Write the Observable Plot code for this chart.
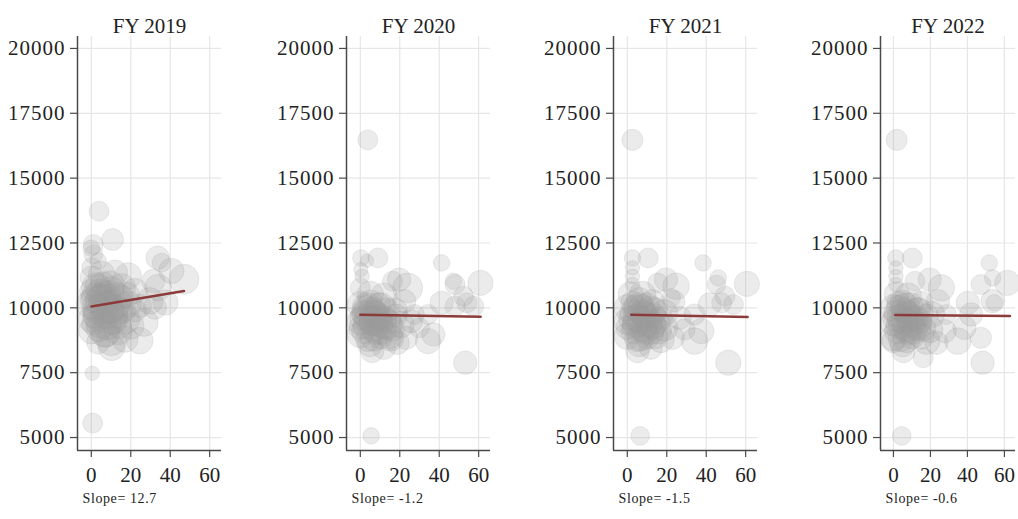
<!DOCTYPE html>
<html>
<head>
<meta charset="utf-8">
<script src="https://cdn.jsdelivr.net/npm/d3@7"></script>
<script src="https://cdn.jsdelivr.net/npm/@observablehq/plot@0.6"></script>
<style>
  html, body { margin: 0; padding: 0; background: #fff; }
  #chart { position: relative; width: 1018px; height: 519px; overflow: hidden; }
  #chart svg { position: absolute; top: 0; }
</style>
</head>
<body>
<div id="chart"></div>
<script>
// ---- data (x, y, weight) ----
const years = ["FY 2019", "FY 2020", "FY 2021", "FY 2022"];
const slopes = [12.7, -1.2, -1.5, -0.6];
const intercepts = [10050, 9730, 9738, 9720];
const fitMin = [0, 0, 2, 1];
const fitMax = [47, 61, 61, 63];
const xTicks = [0, 20, 40, 60];
const yTicks = [5000, 7500, 10000, 12500, 15000, 17500, 20000];

const fy2019 = [
  [3.9,13725,25],[10.8,12637,30],[1.0,12445,25],[1.0,12061,22],[0,12300,17],
  [33.6,11933,34],[35.6,11741,22],[40.6,11421,40],[47.0,11101,56],[33.9,10781,44],
  [37.6,10205,40],[26.8,9437,49],[24.6,8733,44],[18.7,11229,44],[0.5,7478,13],
  [0.7,5558,25],[0.2,11165,34],[5.2,11293,44],[12.0,11357,40],[0,10653,34],
  [2.7,10781,56],[9.4,10845,56],[15.3,10781,49],[22.1,10653,40],[0,10141,56],
  [5.2,10269,69],[12.0,10205,64],[18.7,10141,44],[24.6,10077,34],[0,9565,44],
  [3.5,9693,56],[10.3,9629,69],[17.0,9565,56],[0.2,9117,44],[6.9,9053,56],
  [13.7,9117,49],[3.5,8669,34],[10.3,8733,56],[17.0,8797,44],[29.7,10269,44],
  [31.4,11037,34],[6.1,10525,44],[8.6,9949,56],[1.9,10013,44],[14.5,9885,44],
  [0.2,11549,25],[3.5,11805,17],[10.3,8477,44],[32.2,10013,34],
  [2,10400,50],[4,10600,44],[6,10100,56],[8,10400,49],[10,10700,44],
  [12,10000,44],[3,9900,49],[5,9400,56],[7,9700,44],[9,10200,40],
  [11,9500,44],[13,10500,40],[1,10300,44],[2,9700,40],[4,9200,44],
  [6,10900,40],[8,9300,49],[10,9900,44],[14,9300,40],[15,10400,40],
  [1,9400,34],[3,10800,40],[7,9000,44],[9,10600,34],[12,9700,40],
  [5,10400,44],[16,9900,40],[20,9300,44],[18,10500,40],[22,9900,34]
];
const fy2020 = [
  [3.8,16474,25],[0.3,11923,17],[3.4,11820,11],[8.9,11923,25],[0.3,11474,13],
  [0.9,11218,13],[41.2,11731,17],[16.3,11026,25],[19.7,11090,34],[24.0,10769,56],
  [47.2,11026,17],[48.0,10897,25],[60.9,10961,40],[52.3,10449,25],[54.0,10192,25],
  [57.5,10064,25],[41.2,10192,34],[48.0,10064,25],[53.2,7885,34],[5.5,5064,17],
  [34.3,9744,25],[37.0,8974,34],[34.3,8718,40],[30.0,9231,25],[27.4,9744,25],
  [22.3,10256,34],[0,10769,25],[5.1,10513,44],[12.0,10449,44],[0,10128,44],
  [3.4,10000,56],[10.3,10000,56],[17.2,9872,44],[0,9487,44],[6.9,9487,56],
  [13.7,9359,56],[20.6,9359,44],[0,8974,44],[6.9,8846,44],[15.4,8846,44],
  [23.2,8846,34],[6.0,8333,34],[12.0,8462,34],[18.9,8654,34],[2.6,9744,44],
  [9.4,9615,44],[0,9231,34],[25.7,9487,34],
  [2,9800,44],[4,9600,49],[6,9900,44],[8,9700,49],[10,9400,44],
  [12,9600,40],[3,9300,44],[5,10200,40],[7,9200,44],[9,10100,40],
  [11,9100,44],[13,9900,40],[1,9600,40],[2,9100,40],[4,8800,40],
  [6,9500,49],[8,9100,44],[14,9500,40],[16,9200,40],[15,8900,40],
  [3,10000,40],[7,9800,44],[10,8900,40],[12,9300,44],[5,8600,40],[18,9700,34]
];
const fy2021 = [
  [2.6,16474,28],[2.6,11923,17],[10.6,11923,25],[2.6,11538,13],[2.6,11218,13],
  [2.6,10897,13],[38.4,11731,17],[15.4,10961,25],[19.6,11090,34],[24.7,10833,44],
  [46.1,11154,17],[45.2,10897,22],[60.6,10923,40],[49.5,10449,25],[47.8,10192,25],
  [53.8,10128,25],[41.8,10128,34],[51.2,7885,40],[6.5,5064,22],[34.1,9744,28],
  [37.5,9103,40],[34.1,8718,44],[29.0,9167,28],[23.9,10256,28],[26.5,9615,34],
  [1.7,10513,40],[7.7,10513,44],[12.8,10256,34],[0,10000,44],[6.0,10000,56],
  [11.9,9872,56],[18.8,9808,44],[0,9487,44],[5.1,9423,56],[11.9,9359,56],
  [18.8,9231,44],[0,8910,44],[6.8,8846,44],[17.1,8782,44],[5.1,8333,34],
  [11.9,8462,34],[23.0,8846,34],[9.4,9615,44],[0,9231,34],[2.6,10192,34],
  [22.2,10385,22],
  [3,9800,44],[5,9600,49],[7,10000,44],[9,9700,49],[11,9400,44],
  [13,9700,40],[4,9300,44],[6,10300,40],[8,9200,44],[10,10100,40],
  [12,9100,44],[14,9900,40],[2,9600,40],[3,9100,40],[5,8800,40],
  [7,9500,49],[9,9100,44],[15,9500,40],[16,9100,40],[14,8900,40],
  [4,10000,40],[8,9800,44],[10,8900,40],[13,9300,44],[6,8600,40],[17,9600,34]
];
const fy2022 = [
  [1.8,16474,28],[1.3,11923,17],[10.2,11923,25],[1.3,11538,13],[1.3,11218,13],
  [1.3,10897,13],[51.8,11731,17],[53.6,11154,17],[47.3,10897,25],[61.6,10961,40],
  [53.6,10256,34],[54.5,10192,17],[11.6,11026,25],[19.6,11090,34],[25.9,10769,44],
  [40.2,10192,34],[42.0,9744,34],[48.2,7885,34],[4.5,5064,22],[34.8,8718,44],
  [38.4,9231,34],[28.6,9744,25],[24.1,10256,34],[47.3,8846,28],[27.7,9103,34],
  [1.8,10513,40],[8.0,10449,44],[15.2,10192,34],[0,10000,44],[6.3,10000,56],
  [13.4,9808,56],[20.5,9744,44],[0,9423,44],[5.4,9359,56],[12.5,9295,56],
  [19.6,9167,44],[0,8846,44],[7.1,8782,44],[17.9,8718,44],[5.4,8333,34],
  [16.1,8077,25],[0,8718,34],[8.9,9551,44],[2.7,10192,34],[23.2,8654,34],
  [2,9800,44],[4,9600,49],[6,9900,44],[8,9700,49],[10,9400,44],
  [12,9600,40],[3,9300,44],[5,10200,40],[7,9200,44],[9,10100,40],
  [11,9100,44],[13,9900,40],[1,9600,40],[2,9100,40],[4,8800,40],
  [6,9500,49],[8,9100,44],[14,9500,40],[16,9200,40],[15,8900,40],
  [3,10000,40],[7,9800,44],[10,8900,40],[12,9300,44],[5,8600,40],[18,9700,34]
];
const panels = [fy2019, fy2020, fy2021, fy2022];

// ---- drawing ----
const chart = document.getElementById("chart");
const font = "'Liberation Serif', 'Times New Roman', serif";
const axisColor = "#4a4a4a";
const xDomain = [-7, 66];
const yDomain = [4500, 20460];
const lefts = [0, 269, 536, 803];
const plotWidths = [144, 144, 144, 135];

panels.forEach((pts, i) => {
  const dots = pts.map(([x, y, w]) => ({x, y, w}));
  const fit = [fitMin[i], fitMax[i]].map(x => ({x, y: intercepts[i] + slopes[i] * x}));
  const svgWidth = i < 3 ? 267 : 215;
  const svg = Plot.plot({
    width: svgWidth,
    height: 519,
    marginLeft: 77,
    marginRight: svgWidth - 77 - plotWidths[i],
    marginTop: 36,
    marginBottom: 69,
    style: {fontFamily: font, fontSize: "21px", color: "#222", background: "transparent", overflow: "visible"},
    x: {domain: xDomain},
    y: {domain: yDomain},
    r: {domain: [0, 100], range: [0, 20]},
    marks: [
      Plot.gridX(xTicks, {stroke: "#e6e6e6", strokeOpacity: 1, strokeWidth: 1.2}),
      Plot.gridY(yTicks, {stroke: "#e6e6e6", strokeOpacity: 1, strokeWidth: 1.2}),
      Plot.dot(dots, {x: "x", y: "y", r: "w", fill: "#9a9a9a", fillOpacity: 0.2,
        stroke: "#9a9a9a", strokeOpacity: 0.18, strokeWidth: 1}),
      Plot.line(fit, {x: "x", y: "y", stroke: "#8c3b3b", strokeWidth: 2.5}),
      Plot.ruleX([xDomain[0]], {stroke: axisColor, strokeWidth: 1.5}),
      Plot.ruleY([yDomain[0]], {stroke: axisColor, strokeWidth: 1.5}),
      Plot.axisY(yTicks, {tickSize: 7, tickPadding: 5, stroke: axisColor, strokeWidth: 1.2,
        tickFormat: d => String(d), label: null, fontSize: 21, fill: "#222"}),
      Plot.axisX(xTicks, {tickSize: 7, tickPadding: 10, stroke: axisColor, strokeWidth: 1.2,
        tickFormat: d => String(d), label: null, fontSize: 21, fill: "#222"}),
      Plot.text([years[i]], {text: d => d, frameAnchor: "top", dy: -18, fontSize: 21, fill: "#222"}),
      Plot.text([`Slope= ${slopes[i]}`], {text: d => d, frameAnchor: "bottom-left", dx: 5, dy: 52,
        textAnchor: "start", fontSize: 14, fill: "#222"})
    ]
  });
  svg.style.left = lefts[i] + "px";
  svg.querySelectorAll("text").forEach(t => {
    if (t.textContent.startsWith("Slope")) t.setAttribute("letter-spacing", "0.6");
  });
  svg.querySelectorAll("g[aria-label='y-axis tick label']").forEach(g => g.setAttribute("letter-spacing", "1"));
  chart.appendChild(svg);
});
</script>
</body>
</html>
